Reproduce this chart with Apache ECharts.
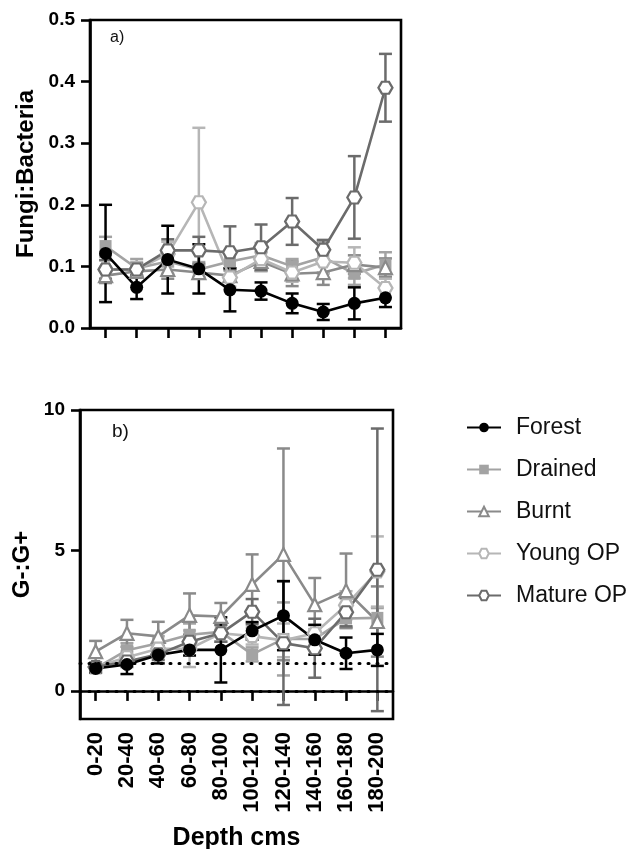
<!DOCTYPE html>
<html><head><meta charset="utf-8">
<script src="https://cdn.jsdelivr.net/npm/echarts@6/dist/echarts.min.js"></script>
<style>html,body{margin:0;padding:0;background:#fff}#c{width:643px;height:849px}</style>
</head><body><div id="c"></div>
<script>
const categories = ['0-20','20-40','40-60','60-80','80-100','100-120','120-140','140-160','160-180','180-200'];
const seriesNames = ['Forest','Drained','Burnt','Young OP','Mature OP'];
const fbTicks = [0, 0.1, 0.2, 0.3, 0.4, 0.5];
const ggTicks = [0, 5, 10];
const ggRefLines = [0, 1];

// Fungi:Bacteria (panel a)
const forestFB    = [0.121, 0.066, 0.111, 0.096, 0.062, 0.060, 0.040, 0.026, 0.040, 0.049];
const forestFBerr = [0.079, 0.019, 0.055, 0.040, 0.035, 0.014, 0.016, 0.013, 0.026, 0.015];
const drainedFB    = [0.133, 0.097, 0.108, 0.095, 0.108, 0.118, 0.100, 0.115, 0.088, 0.103];
const drainedFBerr = [0.015, 0.015, 0.020, 0.012, 0.015, 0.020, 0.012, 0.025, 0.018, 0.020];
const burntFB    = [0.085, 0.092, 0.095, 0.090, 0.085, 0.108, 0.088, 0.090, 0.103, 0.098];
const burntFBerr = [0.012, 0.010, 0.015, 0.010, 0.010, 0.015, 0.020, 0.020, 0.015, 0.015];
const youngFB    = [0.095, 0.095, 0.120, 0.204, 0.082, 0.112, 0.090, 0.108, 0.106, 0.065];
const youngFBerr = [0.020, 0.012, 0.020, 0.121, 0.015, 0.020, 0.015, 0.020, 0.025, 0.015];
const matureFB    = [0.095, 0.095, 0.126, 0.126, 0.123, 0.131, 0.173, 0.127, 0.212, 0.390];
const matureFBerr = [0.015, 0.010, 0.018, 0.022, 0.042, 0.037, 0.038, 0.016, 0.067, 0.055];

// G-:G+ (panel b)
const forestGG    = [0.80, 0.94, 1.28, 1.46, 1.46, 2.14, 2.68, 1.82, 1.34, 1.46];
const forestGGerr = [0.15, 0.34, 0.30, 0.20, 1.16, 0.31, 1.23, 0.53, 0.56, 0.57];
const drainedGG    = [0.80, 1.45, 1.70, 2.00, 2.10, 1.30, 1.85, 1.85, 2.58, 2.60];
const drainedGGerr = [0.10, 0.25, 0.25, 0.40, 0.35, 0.25, 1.30, 0.35, 0.35, 0.35];
const burntGG    = [1.40, 2.05, 1.94, 2.69, 2.65, 3.79, 4.86, 3.07, 3.57, 2.47];
const burntGGerr = [0.38, 0.48, 0.52, 0.78, 0.48, 1.07, 3.77, 0.95, 1.32, 1.25];
const youngGG    = [0.85, 1.20, 1.50, 1.50, 2.05, 1.95, 1.80, 2.05, 3.05, 4.25];
const youngGGerr = [0.10, 0.20, 0.20, 0.65, 0.30, 0.30, 0.60, 0.30, 0.50, 1.25];
const matureGG    = [0.85, 1.05, 1.30, 1.75, 2.05, 2.82, 1.70, 1.52, 2.80, 4.31];
const matureGGerr = [0.10, 0.20, 0.20, 0.25, 0.30, 0.45, 2.20, 1.05, 0.50, 5.03];

const hexagon = 'path://M0,6 L3.5,0 L10.5,0 L14,6 L10.5,12 L3.5,12 Z';
const styles = {
  'Forest':    {color:'#000000', symbol:'circle',   size:13, fill:'#000000'},
  'Drained':   {color:'#a3a3a3', symbol:'rect',     size:12, fill:'#a3a3a3'},
  'Burnt':     {color:'#8a8a8a', symbol:'triangle', size:13, fill:'#ffffff'},
  'Young OP':  {color:'#b6b6b6', symbol:hexagon,    size:[14,12], fill:'#ffffff'},
  'Mature OP': {color:'#6b6b6b', symbol:hexagon,    size:[14,12], fill:'#ffffff'}
};
const FONT = '"Liberation Sans", Arial, sans-serif';

function errSeries(name, vals, errs, idx) {
  const st = styles[name];
  return {
    type:'custom', xAxisIndex:idx, yAxisIndex:idx, z:2, silent:true,
    data: vals.map((v,i)=>[i, v, errs[i]]),
    encode:{x:0, y:1},
    renderItem:(params, api)=>{
      const x = api.value(0), y = api.value(1), e = api.value(2);
      const t = api.coord([x, y+e]), b = api.coord([x, y-e]);
      const w = 6.5;
      const ls = {stroke: st.color, lineWidth: 2.5};
      return {type:'group', children:[
        {type:'line', shape:{x1:t[0], y1:t[1], x2:b[0], y2:b[1]}, style:ls},
        {type:'line', shape:{x1:t[0]-w, y1:t[1], x2:t[0]+w, y2:t[1]}, style:ls},
        {type:'line', shape:{x1:b[0]-w, y1:b[1], x2:b[0]+w, y2:b[1]}, style:ls}
      ]};
    }
  };
}
function lineSeries(name, vals, idx, extra) {
  const st = styles[name];
  return Object.assign({
    type:'line', name, xAxisIndex:idx, yAxisIndex:idx, z:3,
    data: vals, symbol: st.symbol, symbolSize: st.size, showSymbol:true,
    lineStyle:{color: st.color, width:2.6},
    itemStyle:{color: st.fill, borderColor: st.color, borderWidth: name==='Forest'||name==='Drained'?0:2.2},
    emphasis:{disabled:true}
  }, extra||{});
}

const panelA = [
  ['Drained', drainedFB, drainedFBerr], ['Burnt', burntFB, burntFBerr],
  ['Young OP', youngFB, youngFBerr], ['Mature OP', matureFB, matureFBerr],
  ['Forest', forestFB, forestFBerr]
];
const panelB = [
  ['Drained', drainedGG, drainedGGerr], ['Burnt', burntGG, burntGGerr],
  ['Young OP', youngGG, youngGGerr], ['Mature OP', matureGG, matureGGerr],
  ['Forest', forestGG, forestGGerr]
];
const series = [];
panelA.forEach(([n,v,e])=>{ series.push(errSeries(n,v,e,0)); });
panelA.forEach(([n,v])=>{ series.push(lineSeries(n,v,0)); });
panelB.forEach(([n,v,e])=>{ series.push(errSeries(n,v,e,1)); });
panelB.forEach(([n,v])=>{
  const extra = n==='Forest' ? {markLine:{silent:true, symbol:'none', label:{show:false},
    lineStyle:{type:[1,8], color:'#000', width:3, cap:'round'},
    data: ggRefLines.map(v=>({yAxis:v}))}} : null;
  series.push(lineSeries(n,v,1,extra));
});

const axisLine = {show:true, lineStyle:{color:'#000', width:2.6}};
const xTick = {show:true, alignWithLabel:true, interval:0, length:10, lineStyle:{color:'#000', width:2.6}};
const option = {
  animation:false,
  textStyle:{fontFamily:FONT},
  grid:[
    {left:90, top:20, width:311, height:308, show:true, borderColor:'#000', borderWidth:2.6,
     containLabel:false, outerBoundsMode:'none'},
    {left:80, top:410, width:313, height:309, show:true, borderColor:'#000', borderWidth:2.6,
     containLabel:false, outerBoundsMode:'none'}
  ],
  xAxis:[
    {type:'category', gridIndex:0, data:categories, boundaryGap:true,
     axisLine, axisTick:xTick, axisLabel:{show:false}, splitLine:{show:false}},
    {type:'category', gridIndex:1, data:categories, boundaryGap:true,
     axisLine, axisTick:xTick,
     axisLabel:{rotate:90, fontSize:22, fontWeight:'bold', color:'#000', margin:13, fontFamily:FONT, interval:0},
     splitLine:{show:false},
     name:'Depth cms', nameLocation:'middle', nameGap:107,
     nameTextStyle:{fontSize:25, fontWeight:'bold', color:'#000', fontFamily:FONT}}
  ],
  yAxis:[
    {type:'value', gridIndex:0, min:0, max:0.5, interval:0.1,
     axisLine, axisTick:{show:true, length:9, lineStyle:{color:'#000', width:2.6}},
     axisLabel:{fontSize:19, fontWeight:'bold', color:'#000', margin:15, fontFamily:FONT,
       customValues: fbTicks, formatter:v=>Number(v).toFixed(1)},
     splitLine:{show:false},
     name:'Fungi:Bacteria', nameLocation:'middle', nameGap:52,
     nameTextStyle:{fontSize:24, fontWeight:'bold', color:'#000', fontFamily:FONT}},
    {type:'value', gridIndex:1, min:-1, max:10,
     axisLine, axisTick:{show:true, length:9, customValues: ggTicks, lineStyle:{color:'#000', width:2.6}},
     axisLabel:{fontSize:19, fontWeight:'bold', color:'#000', margin:15, fontFamily:FONT, customValues: ggTicks},
     splitLine:{show:false},
     name:'G-:G+', nameLocation:'middle', nameGap:46,
     nameTextStyle:{fontSize:24, fontWeight:'bold', color:'#000', fontFamily:FONT}}
  ],
  legend:{
    orient:'vertical', left:461, top:411, itemWidth:34, itemHeight:12, itemGap:19,
    data: seriesNames,
    textStyle:{fontSize:23, color:'#111', fontFamily:FONT, padding:[0,0,0,10]}
  },
  graphic:[
    {type:'text', left:110, top:30, style:{text:'a)', fontSize:16, fill:'#111', fontFamily:FONT}},
    {type:'text', left:112, top:422, style:{text:'b)', fontSize:19, fill:'#111', fontFamily:FONT}}
  ],
  series
};
const chart = echarts.init(document.getElementById('c'), null, {renderer:'canvas'});
chart.setOption(option);
</script>
</body></html>
